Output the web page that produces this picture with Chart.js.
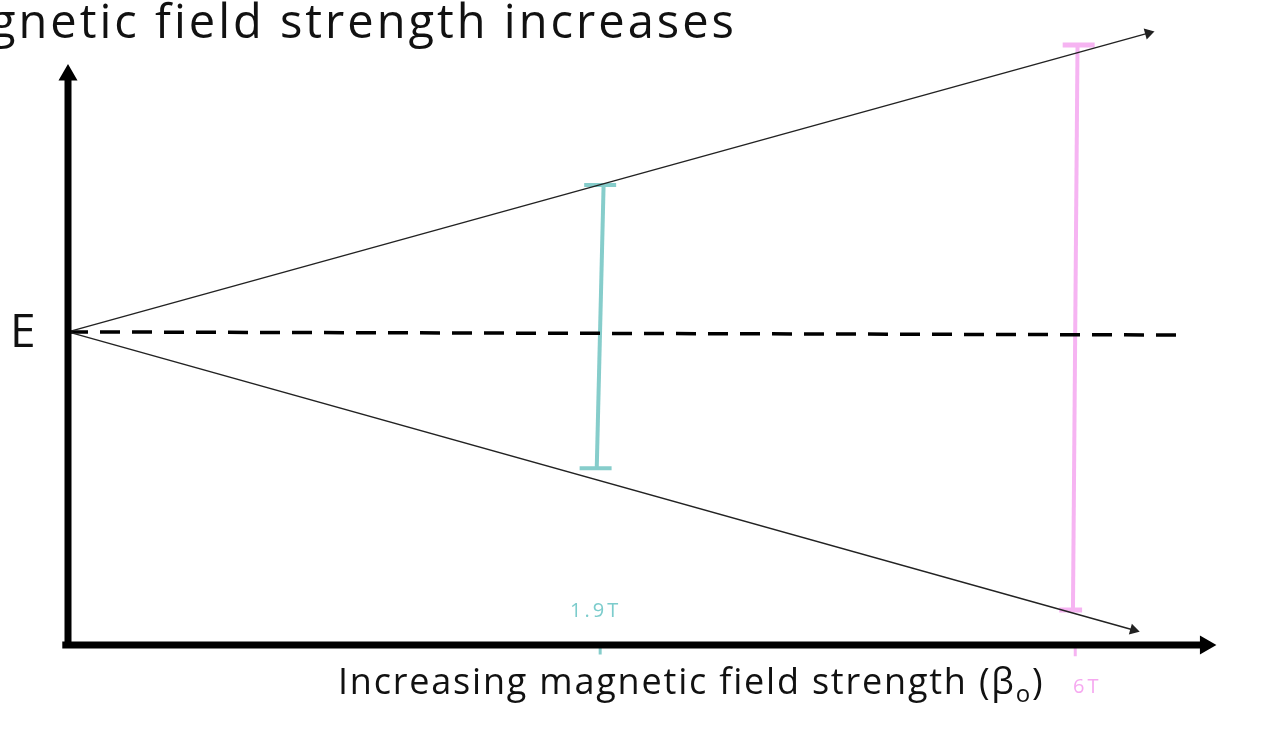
<!DOCTYPE html>
<html>
<head>
<meta charset="utf-8">
<script src="https://cdn.jsdelivr.net/npm/chart.js@4"></script>
<style>
  body { margin: 0; background: #fff; overflow: hidden; }
  #wrap { position: relative; width: 1262px; height: 741px; }
  .t { position: absolute; font-family: "Open Sans", Lato, sans-serif; color: #111; white-space: nowrap; }
</style>
</head>
<body>
<div id="wrap">
  <canvas id="myChart" width="1262" height="741"></canvas>
  <div class="t" style="left:-10px; top:-12px; font-size:47px; letter-spacing:3px;">gnetic field strength increases</div>
  <div class="t" style="left:10px; top:298px; font-size:46px;">E</div>
  <div class="t" style="left:338px; top:656px; font-size:36px; letter-spacing:1.8px;">Increasing magnetic field strength (β<sub style="font-size:24px">o</sub>)</div>
  <div class="t" style="left:570px; top:596px; font-size:20px; color:#7ccccc; letter-spacing:3px;">1.9T</div>
  <div class="t" style="left:1073px; top:672px; font-size:20px; color:#f6a8f0; letter-spacing:3px;">6T</div>
</div>
<script>
// values in a 0..100 box
const origin = [0, 50.1];
const upperEnd = [94.6, 97.9];
const lowerEnd = [93.3, 2.4];
const dashedEnd = [97.8, 49.6];
const tealX = 46.6, tealTop = 73.6, tealBottom = 28.3;
const pinkX = 88.2, pinkTop = 96, pinkBottom = 5.6;
const capHalf = 1.4;
const yAxisTop = 91.2;
const xAxisEnd = 99.6;

const pt = (a) => ({ x: a[0], y: a[1] });

const line = (data, color, width, extra) => Object.assign({
    data: data,
    borderColor: color,
    backgroundColor: color,
    borderWidth: width,
    pointRadius: 0,
    showLine: true,
    tension: 0
}, extra || {});

const arrow = (rot, size) => ({
    pointStyle: 'triangle',
    pointRadius: [0, size],
    pointRotation: [0, rot]
});

const datasets = [
    line([{ x: 0, y: 0 }, { x: 0, y: yAxisTop }], '#000', 7, arrow(0, 4)),
    line([{ x: -0.5, y: 0 }, { x: xAxisEnd, y: 0 }], '#000', 7, arrow(90, 4)),
    line([pt(origin), pt(upperEnd)], '#222', 1.5, arrow(74.5, 5)),
    line([pt(origin), pt(lowerEnd)], '#222', 1.5, arrow(105.6, 5)),
    line([pt(origin), pt(dashedEnd)], '#000', 3.5, { borderDash: [20, 12] }),
    line([{ x: tealX + 0.3, y: tealTop }, { x: tealX - 0.3, y: tealBottom }], '#86cdcb', 4),
    line([{ x: tealX - capHalf, y: tealTop }, { x: tealX + capHalf, y: tealTop }], '#86cdcb', 4),
    line([{ x: tealX - capHalf - 0.4, y: tealBottom }, { x: tealX + capHalf - 0.4, y: tealBottom }], '#86cdcb', 4),
    line([{ x: pinkX + 0.2, y: pinkTop }, { x: pinkX - 0.2, y: pinkBottom }], '#f6b4f2', 4),
    line([{ x: pinkX - capHalf + 0.3, y: pinkTop }, { x: pinkX + capHalf + 0.3, y: pinkTop }], '#f6b4f2', 5),
    line([{ x: pinkX - capHalf, y: pinkBottom }, { x: pinkX + 0.6, y: pinkBottom }], '#f6b4f2', 5),
    line([{ x: tealX, y: -0.3 }, { x: tealX, y: -1.5 }], '#86cdcb', 3),
    line([{ x: pinkX, y: -0.3 }, { x: pinkX, y: -1.8 }], '#f6b4f2', 3)
];

const myChart = new Chart(document.getElementById('myChart'), {
    type: 'scatter',
    data: { datasets: datasets },
    options: {
        responsive: false,
        animation: false,
        clip: false,
        layout: { padding: { left: 68, right: 52, top: 20, bottom: 96 } },
        plugins: { legend: { display: false }, tooltip: { enabled: false } },
        scales: {
            x: { type: 'linear', min: 0, max: 100, display: false },
            y: { type: 'linear', min: 0, max: 100, display: false }
        }
    }
});
</script>
</body>
</html>
